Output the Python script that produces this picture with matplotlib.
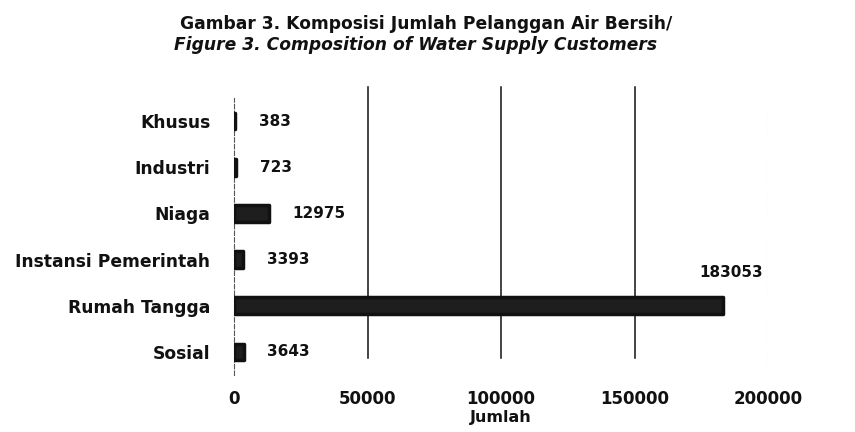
import matplotlib
matplotlib.use("Agg")
import matplotlib.pyplot as plt

categories = ["Sosial", "Rumah Tangga", "Instansi Pemerintah", "Niaga", "Industri", "Khusus"]
values = [3643, 183053, 3393, 12975, 723, 383]
xticks = [0, 50000, 100000, 150000, 200000]
xtick_labels = ["0", "50000", "100000", "150000", "200000"]

plt.rcParams['font.family'] = ['DejaVu Sans']

fig = plt.figure(figsize=(8.55, 4.32), dpi=100)
L, R, T, B = 234, 768, 98, 375
ax = fig.add_axes([L/855, 1-B/432, (R-L)/855, (B-T)/432])

ypos = list(range(len(categories)))
ax.barh(ypos, values, height=0.36, color='#1e1e1e', edgecolor='#111111', linewidth=2.5,
        joinstyle='round', zorder=3)

for y, v, c in zip(ypos, values, categories):
    if c == "Rumah Tangga":
        ax.annotate(f"{v}", xy=(v, y), xytext=(6, 24), textcoords='offset points',
                    ha='center', va='center', fontsize=11, fontweight='bold', color='#111')
    else:
        ax.annotate(f"{v}", xy=(v, y), xytext=(17, 0), textcoords='offset points',
                    ha='left', va='center', fontsize=11, fontweight='bold', color='#111')

ax.set_xlim(0, 200000)
ax.set_ylim(-0.5, len(categories) - 0.5)
ax.set_yticks(ypos)
ax.set_yticklabels(categories, fontsize=12.3, fontweight='bold', color='#111')
ax.set_xticks(xticks)
ax.set_xticklabels(xtick_labels, fontsize=12, fontweight='bold', color='#111')
ax.tick_params(axis='both', length=0)
ax.tick_params(axis='x', pad=11)
ax.tick_params(axis='y', pad=17)

for xv in xticks[1:4]:
    ax.axvline(xv, ymin=0.06, ymax=1.04, color='#111111', lw=1.1, zorder=1, clip_on=False)
ax.axvline(xticks[4], color='#aaaaaa', lw=0.8, ls=(0, (2, 6)), zorder=1)

for s in ['top', 'right', 'bottom']:
    ax.spines[s].set_visible(False)
ax.spines['left'].set_color('#555555')
ax.spines['left'].set_linewidth(0.8)
ax.spines['left'].set_linestyle((0, (4, 2)))

ax.set_xlabel("Jumlah", fontsize=11.5, fontweight='bold', color='#111', labelpad=1)

fig.text(426/855, 1-24/432, "Gambar 3. Komposisi Jumlah Pelanggan Air Bersih/", ha='center', va='center',
         fontsize=12.3, fontweight='bold', color='#111')
fig.text(416/855, 1-45/432, "Figure 3. Composition of Water Supply Customers", ha='center', va='center',
         fontsize=12.3, fontweight='bold', style='italic', color='#111')

fig.savefig("out.png", dpi=100, facecolor='white')
